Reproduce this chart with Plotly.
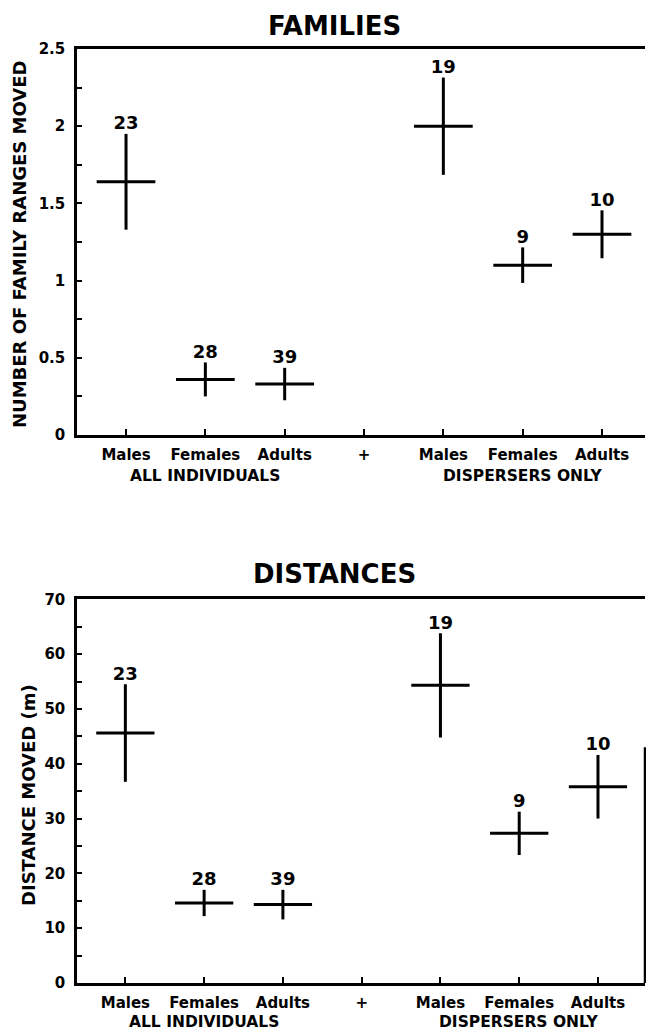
import plotly.graph_objects as go

# ---------------- data ----------------
tick_labels = ["Males", "Females", "Adults", "+", "Males", "Females", "Adults"]
tick_positions = [0, 1, 2, 3, 4, 5, 6]
group_positions = [0, 1, 2, 4, 5, 6]
sample_sizes = [23, 28, 39, 19, 9, 10]

families_mean = [1.64, 0.36, 0.33, 2.00, 1.10, 1.30]
families_err = [0.31, 0.11, 0.105, 0.315, 0.115, 0.155]

distance_mean = [45.6, 14.6, 14.3, 54.3, 27.3, 35.8]
distance_err = [8.9, 2.4, 2.7, 9.5, 3.95, 5.8]

group_labels = ["ALL INDIVIDUALS", "DISPERSERS ONLY"]
group_label_positions = [1, 5]

# ---------------- figure ----------------
W, H = 646, 1035
FONT = "DejaVu Sans"
fig = go.Figure()


def add_panel(fig, means, errs, xa, ya):
    fig.add_trace(go.Scatter(
        x=group_positions, y=means, mode="markers",
        marker=dict(size=1, color="rgba(0,0,0,0)"),
        error_y=dict(type="data", array=errs, visible=True, width=0,
                     thickness=3, color="black"),
        error_x=dict(type="constant", value=0.37, visible=True, width=0,
                     thickness=3, color="black"),
        xaxis=xa, yaxis=ya, showlegend=False, hoverinfo="skip"))
    tops = [m + e for m, e in zip(means, errs)]
    fig.add_trace(go.Scatter(
        x=group_positions, y=tops, mode="text",
        text=[str(n) for n in sample_sizes], textposition="top center",
        textfont=dict(family=FONT, size=18, color="black", weight="bold"),
        xaxis=xa, yaxis=ya, showlegend=False, hoverinfo="skip"))


add_panel(fig, families_mean, families_err, "x", "y")
add_panel(fig, distance_mean, distance_err, "x2", "y2")

xdom = [77 / W, 645 / W]
top_dom = [1 - 435 / H, 1 - 49 / H]
bot_dom = [1 - 983 / H, 1 - 599.3 / H]

xaxis_common = dict(
    tickvals=tick_positions, ticktext=tick_labels,
    showline=True, linecolor="black", linewidth=2.5, mirror=True,
    ticks="inside", ticklen=6, tickwidth=2, tickcolor="black",
    tickfont=dict(family=FONT, size=15, color="black", weight="bold"),
    ticklabelstandoff=4, showgrid=False, zeroline=False,
    domain=xdom, automargin=False, fixedrange=True)

yaxis_common = dict(
    showline=True, linecolor="black", linewidth=2.5,
    ticks="inside", ticklen=5, tickwidth=2, tickcolor="black",
    tickfont=dict(family=FONT, size=15, color="black", weight="bold"),
    ticklabelstandoff=6, showgrid=False, zeroline=False,
    automargin=False, fixedrange=True)

fig.update_layout(
    width=W, height=H, autosize=False,
    margin=dict(l=0, r=0, t=0, b=0),
    paper_bgcolor="white", plot_bgcolor="white",
    xaxis=dict(xaxis_common, range=[-0.618, 6.542], anchor="y"),
    yaxis=dict(yaxis_common, range=[0, 2.5], dtick=0.5, domain=top_dom,
               anchor="x",
               minor=dict(dtick=0.25, ticks="inside", ticklen=5,
                          tickwidth=2, tickcolor="black", showgrid=False)),
    xaxis2=dict(xaxis_common, range=[-0.614, 6.597], anchor="y2"),
    yaxis2=dict(yaxis_common, range=[0, 70], dtick=10, domain=bot_dom,
                anchor="x2",
                minor=dict(dtick=5, ticks="inside", ticklen=5,
                           tickwidth=2, tickcolor="black", showgrid=False)),
)

# Titles
for text, ypix in [("FAMILIES", 26), ("DISTANCES", 574)]:
    fig.add_annotation(text=text, xref="paper", yref="paper",
                       x=334 / W, y=1 - ypix / H, showarrow=False,
                       xanchor="center", yanchor="middle",
                       font=dict(family=FONT, size=26, color="black", weight="bold"))

# Y-axis titles
fig.add_annotation(text="NUMBER OF FAMILY RANGES MOVED", xref="paper", yref="paper",
                   x=20 / W, y=1 - 245 / H, showarrow=False, textangle=-90,
                   xanchor="center", yanchor="middle",
                   font=dict(family=FONT, size=18, color="black", weight="bold"))
fig.add_annotation(text="DISTANCE MOVED (m)", xref="paper", yref="paper",
                   x=28 / W, y=1 - 795 / H, showarrow=False, textangle=-90,
                   xanchor="center", yanchor="middle",
                   font=dict(family=FONT, size=18, color="black", weight="bold"))

# Group labels under x axes
for xa, ypix in [("x", 476), ("x2", 1022)]:
    for lbl, pos in zip(group_labels, group_label_positions):
        fig.add_annotation(text=lbl, xref=xa, yref="paper",
                           x=pos, y=1 - ypix / H, showarrow=False,
                           xanchor="center", yanchor="middle",
                           font=dict(family=FONT, size=15.5, color="black", weight="bold"))

# partial right frame line visible in the lower panel
fig.add_shape(type="line", xref="x2 domain", yref="y2", x0=1, x1=1, y0=0, y1=43,
              line=dict(color="black", width=2.5))

fig.write_html("out.html",
               config={"displayModeBar": False},
               post_script="document.body.style.margin='0px';"
                           "document.body.style.overflow='hidden';")
